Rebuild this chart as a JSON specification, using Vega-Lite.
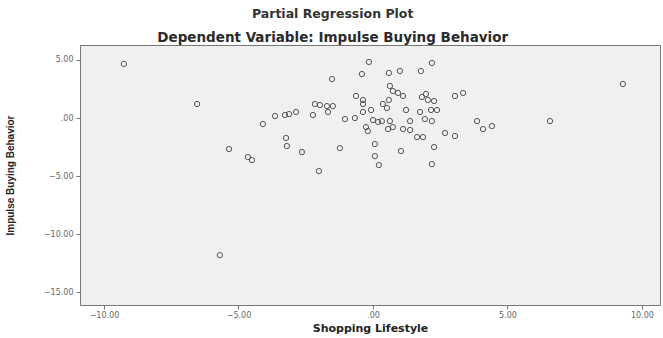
{
  "$schema": "https://vega.github.io/schema/vega-lite/v6.json",
  "autosize": "none",
  "width": 580,
  "height": 260,
  "padding": {"left": 80, "top": 45, "right": 3, "bottom": 33},
  "background": "white",
  "title": {
    "text": "Partial Regression Plot",
    "subtitle": "Dependent Variable: Impulse Buying Behavior",
    "font": "DejaVu Sans",
    "fontSize": 12.5,
    "fontWeight": "bold",
    "color": "#333",
    "subtitleFont": "DejaVu Sans",
    "subtitleFontSize": 13.5,
    "subtitleFontWeight": "bold",
    "subtitleColor": "#2a2a2a",
    "subtitlePadding": 10,
    "anchor": "middle",
    "frame": "bounds",
    "offset": 1
  },
  "config": {
    "view": {"fill": "#f0f0f0", "stroke": "#777", "strokeWidth": 1},
    "axis": {"grid": false, "domain": false, "tickColor": "#777", "tickSize": 4, "labelColor": "#666", "labelFont": "DejaVu Sans", "labelFontSize": 8, "titleFont": "DejaVu Sans", "titleFontWeight": "bold", "titleColor": "#222"}
  },
  "data": {"values": [
    {"x": -9.26, "y": 4.66}, {"x": -6.54, "y": 1.21}, {"x": -4.09, "y": -0.52}, {"x": -3.64, "y": 0.17},
    {"x": -3.27, "y": 0.26}, {"x": -3.12, "y": 0.34}, {"x": -2.86, "y": 0.52}, {"x": -2.16, "y": 1.21},
    {"x": -1.97, "y": 1.12}, {"x": -1.71, "y": 1.03}, {"x": -1.49, "y": 1.03}, {"x": -1.67, "y": 0.52},
    {"x": -2.23, "y": 0.26}, {"x": -1.52, "y": 3.36}, {"x": -1.04, "y": -0.09}, {"x": -0.67, "y": 0.0},
    {"x": -0.41, "y": 3.79}, {"x": -0.15, "y": 4.83}, {"x": -0.63, "y": 1.9}, {"x": -0.37, "y": 1.55},
    {"x": -0.37, "y": 1.21}, {"x": -0.37, "y": 0.52}, {"x": -0.07, "y": 0.69}, {"x": 0.0, "y": -0.17},
    {"x": 0.19, "y": -0.34}, {"x": -0.26, "y": -0.78}, {"x": -0.19, "y": -1.12}, {"x": -3.23, "y": -1.72},
    {"x": -3.2, "y": -2.41}, {"x": -2.64, "y": -2.93}, {"x": -1.23, "y": -2.59}, {"x": 0.07, "y": -2.24},
    {"x": 0.07, "y": -3.28}, {"x": 0.22, "y": -4.05}, {"x": -5.35, "y": -2.67}, {"x": -4.65, "y": -3.36},
    {"x": -4.5, "y": -3.62}, {"x": -2.01, "y": -4.57}, {"x": 0.59, "y": 3.88}, {"x": 1.0, "y": 4.05},
    {"x": 1.78, "y": 4.05}, {"x": 2.19, "y": 4.74}, {"x": 0.63, "y": 2.76}, {"x": 0.74, "y": 2.33},
    {"x": 0.93, "y": 2.16}, {"x": 1.12, "y": 1.9}, {"x": 1.82, "y": 1.81}, {"x": 1.97, "y": 2.07},
    {"x": 2.04, "y": 1.55}, {"x": 2.27, "y": 1.47}, {"x": 0.59, "y": 1.55}, {"x": 0.37, "y": 1.21},
    {"x": 0.52, "y": 0.86}, {"x": 1.23, "y": 0.69}, {"x": 1.75, "y": 0.52}, {"x": 2.16, "y": 0.69},
    {"x": 2.38, "y": 0.69}, {"x": 3.05, "y": 1.9}, {"x": 3.35, "y": 2.16}, {"x": 0.63, "y": -0.26},
    {"x": 0.33, "y": -0.26}, {"x": 0.56, "y": -0.95}, {"x": 0.74, "y": -0.78}, {"x": 1.12, "y": -0.95},
    {"x": 1.38, "y": -1.03}, {"x": 1.38, "y": -0.26}, {"x": 1.93, "y": -0.09}, {"x": 2.19, "y": -0.26},
    {"x": 1.64, "y": -1.64}, {"x": 1.86, "y": -1.64}, {"x": 2.68, "y": -1.29}, {"x": 3.05, "y": -1.55},
    {"x": 3.87, "y": -0.26}, {"x": 4.09, "y": -0.95}, {"x": 4.42, "y": -0.69}, {"x": 6.58, "y": -0.26},
    {"x": 9.29, "y": 2.93}, {"x": 1.04, "y": -2.84}, {"x": 2.27, "y": -2.5}, {"x": 2.19, "y": -3.97},
    {"x": -5.69, "y": -11.81}
  ]},
  "mark": {"type": "point", "shape": "circle", "filled": false, "stroke": "#555", "strokeWidth": 1, "size": 28, "opacity": 1},
  "encoding": {
    "x": {
      "field": "x", "type": "quantitative",
      "scale": {"domain": [-10.89, 10.67], "nice": false, "zero": false},
      "axis": {"values": [-10, -5, 0, 5, 10], "labelExpr": "datum.value == 0 ? '.00' : format(datum.value, '.2f')", "title": "Shopping Lifestyle", "titleFontSize": 11, "titlePadding": 3, "labelPadding": 2}
    },
    "y": {
      "field": "y", "type": "quantitative",
      "scale": {"domain": [-16.1, 6.29], "nice": false, "zero": false},
      "axis": {"values": [5, 0, -5, -10, -15], "labelExpr": "datum.value == 0 ? '.00' : format(datum.value, '.2f')", "title": "Impulse Buying Behavior", "titleFont": "Liberation Sans", "titleFontSize": 10, "titlePadding": 28, "labelPadding": 3}
    }
  }
}
